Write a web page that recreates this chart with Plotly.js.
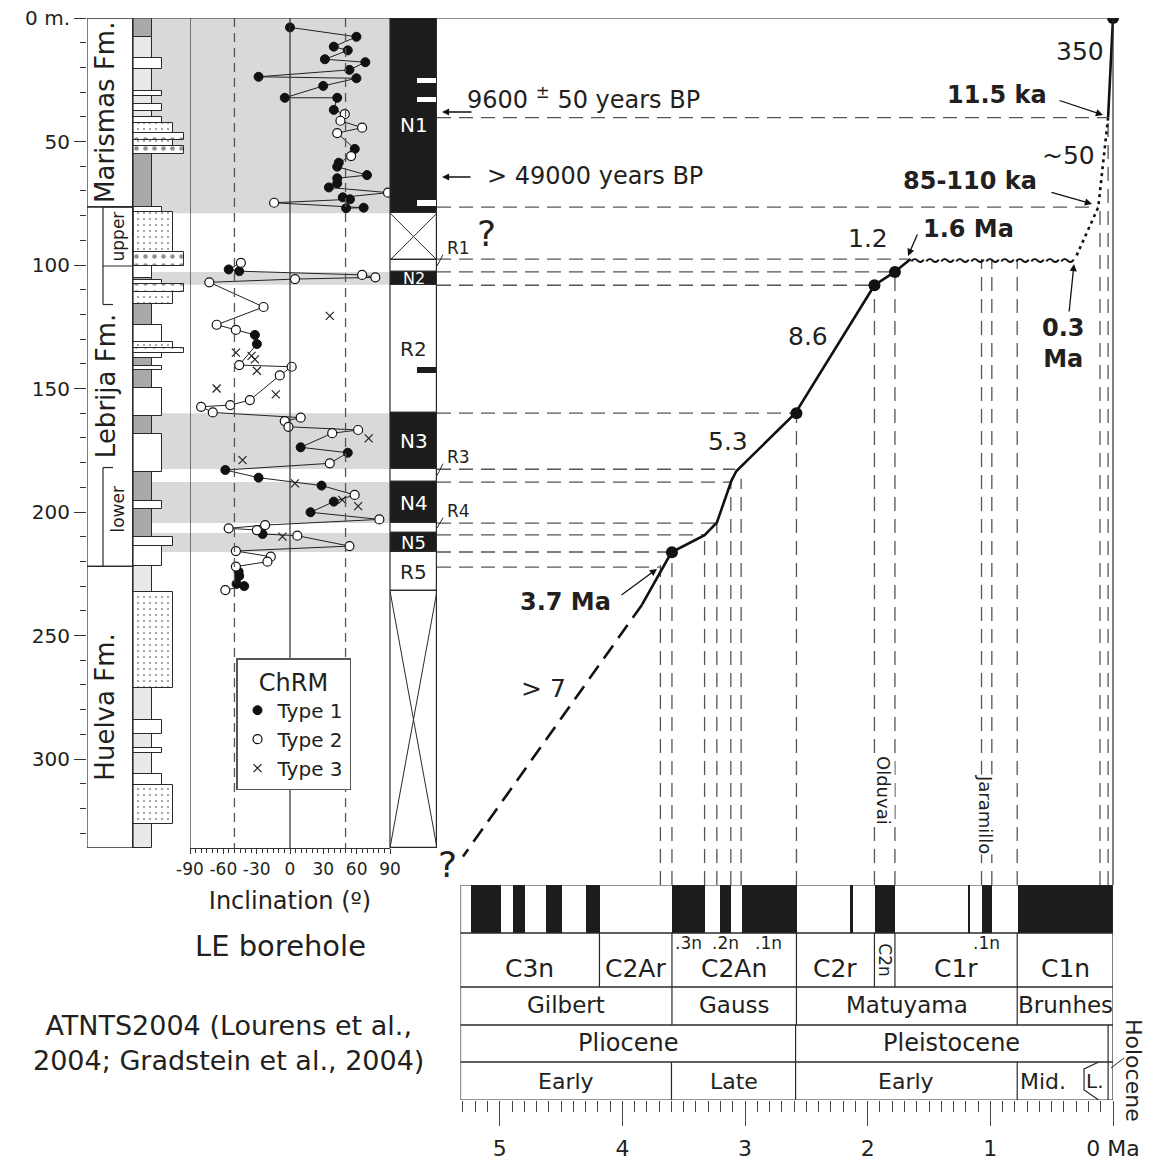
<!DOCTYPE html>
<html><head><meta charset="utf-8">
<script src="https://cdn.plot.ly/plotly-3.0.1.min.js"></script>
<style>html,body{margin:0;padding:0;background:#fff}#chart{width:1150px;height:1162px}</style>
</head><body><div id="chart"></div>
<script>
// ================= DATA =================
// Formations (depth, m)
const formationNames = ['Marismas Fm.', 'Lebrija Fm.', 'Huelva Fm.'];
const formationTop   = [0, 76.5, 222];
const formationBase  = [76.5, 222, 336];
const memberNames = ['upper', 'lower'];
const memberTop   = [76.5, 182];
const memberBase  = [100.4, 222];

// Lithology base strip
const stripTop   = [0, 7.8, 42.6, 100.4, 105.3, 222];
const stripBase  = [7.8, 42.6, 100.4, 105.3, 222, 336];
const stripShade = ['dark', 'light', 'dark', 'none', 'dark', 'light'];
// Lithology beds
const bedTop  = [16.3, 29.6, 35.0, 40.2, 42.6, 46.7, 49.5, 51.7, 76.5, 78.7, 94.9, 106.1, 107.7, 111.0, 124.3, 131.0, 133.6, 135.6, 140.9, 149.8, 168.4, 195.5, 210.1, 213.8, 232.4, 284.2, 295.5, 306.0, 310.5];
const bedBase = [20.6, 31.7, 37.7, 42.6, 46.7, 49.5, 51.7, 55.2, 78.7, 94.9, 100.4, 107.7, 111.0, 115.8, 131.0, 133.6, 135.6, 137.7, 142.5, 161.0, 183.8, 198.8, 213.8, 222.0, 271.3, 290.0, 297.6, 310.5, 326.3];
const bedType = ['silt','silt','silt','silt','sand','gravel','sand','gravel','silt','sand','gravel','silt','gravel','sand','silt','sand','gravel','silt','silt','silt','silt','silt','sandPlain','silt','sand','silt','silt','silt','sand'];

// Inclination (ChRM) – Marismas Fm. segment
const incMarDepth = [3.8, 7.6, 11.6, 13.1, 16.7, 17.9, 21.0, 23.8, 24.4, 27.5, 32.3, 32.3, 37.2, 38.9, 41.6, 44.4, 46.6, 53.0, 55.9, 58.6, 60.2, 63.6, 64.9, 66.9, 68.6, 70.7, 72.6, 73.4, 74.8, 76.8, 77.0];
const incMarValue = [0, 59.8, 39.4, 52, 31.4, 67.8, 53.5, -28.3, 59.8, 29.9, -4.7, 42.5, 39.4, 49.3, 45.4, 64.9, 42.5, 58.3, 55, 43.9, 42.5, 69.3, 42.5, 42.5, 35, 88.2, 47.5, 54, -14.3, 66.3, 50.5];
const incMarType  = [1,1,1,1,1,1,1,1,1,1,1,1,1,2,2,2,2,1,2,1,1,1,1,1,1,2,1,1,2,1,1];
// Inclination – Lebrija Fm. segment
const incLebDepth = [99.1, 101.8, 102.5, 104.0, 105.0, 105.7, 107.0, 117.0, 124.2, 126.3, 128.3, 132.0, 140.5, 141.2, 144.7, 154.7, 156.7, 157.4, 159.7, 161.8, 163.2, 165.5, 166.8, 168.1, 173.8, 176.0, 180.3, 183.0, 186.1, 189.3, 193.1, 195.8, 200.1, 203.0, 205.3, 206.6, 207.3, 208.9, 209.6, 213.8, 215.8, 218.1, 220.1, 222.1, 224.2, 225.9, 229.1, 230.0, 231.6];
const incLebValue = [-44.2, -55.2, -45.7, 64.9, 76.8, 4.5, -72.6, -23.8, -66, -48.7, -31.6, -29.8, -45.7, 1.5, -9.2, -36.1, -53.8, -80, -69.5, 9.6, -4.7, -1.4, 61.3, 38, 9.6, 52, 35.8, -58.2, -28.3, 28.4, 58.2, 39.4, 18.5, 80.4, -22.4, -55.2, -29.8, -24.7, 6.6, 53.5, -48.7, -17.3, -20.3, -48.7, -46.2, -45.7, -48.1, -41.2, -58.2];
const incLebType  = [2,1,1,2,2,2,2,2,2,2, 1,1,2,2,2,2,2,2,2,2, 2,2,2,2,1,1,2,1,1,1, 2,1,1,2,2,2,2,1,2,2, 2,2,2,2,1,1,1,1,2];
// Type 3 (not connected)
const incT3Depth = [120.6, 135.5, 136.8, 138.2, 142.8, 150.0, 152.4, 170.2, 179.0, 188.4, 195.1, 197.6, 210.0];
const incT3Value = [35.8, -48.7, -34.6, -31.6, -29.8, -66, -12.8, 70.8, -42.7, 4.5, 47, 61.3, -6.8];
const incRefLines = [-50, 50];
const incTicks = [-90, -60, -30, 0, 30, 60, 90];
const incTickText = ['-90', '-60', '-30', '0', '30', '60', '90'];

// Magnetozones of the borehole
const polName  = ['N1', '', 'R1', 'N2', 'R2', 'N3', 'R3', 'N4', 'R4', 'N5', 'R5', ''];
const polTop   = [0, 79, 98, 102.8, 108, 160, 182.6, 187.9, 204.5, 208.5, 216.2, 232];
const polBase  = [79, 98, 102.8, 108, 160, 182.6, 187.9, 204.5, 208.5, 216.2, 232, 336];
const polState = ['N', '?', 'R', 'N', 'R', 'N', 'R', 'N', 'R', 'N', 'R', '?'];
const polMarkTop   = [24.3, 32.0, 73.7, 141.3];
const polMarkBase  = [26.3, 34.0, 76.0, 143.7];
const polMarkState = ['R', 'R', 'R', 'N'];

// Age-depth model (age Ma, depth m)
const modelUpperAge = [0, 0.04];             const modelUpperDepth = [0, 40.3];
const modelDottedAge = [0.04, 0.12, 0.31];   const modelDottedDepth = [40.3, 76.6, 97.6];
const hiatusAge = [0.31, 1.65];              const hiatusDepth = 97.6;
const modelLowerAge = [1.65, 1.78, 1.945, 2.59, 3.07, 3.11, 3.23, 3.33, 3.60, 3.84];
const modelLowerDepth = [97.6, 102.8, 108.2, 160, 183.4, 187.2, 204.3, 209.4, 216.3, 237.5];
const modelExtrapAge = [3.84, 5.30];         const modelExtrapDepth = [237.5, 339.5];
const tieAge   = [0, 1.778, 1.945, 2.581, 3.596];
const tieDepth = [0, 102.8, 108.2, 160, 216.3];
const hTieDepth = [40.3, 76.6, 97.6, 102.8, 108.2, 160, 182.7, 187.9, 204.5, 209.3, 216.2, 222.3];
const hTieAge   = [0.05, 0.12, 1.67, 1.78, 1.945, 2.59, 3.08, 3.11, 3.23, 3.33, 3.596, 3.69];
const vTieAge   = [3.69, 3.596, 3.33, 3.23, 3.116, 3.032, 2.581, 1.945, 1.778, 1.072, 0.988, 0.781, 0.106, 0.04];
const vTieDepth = [221.5, 216.3, 209.3, 204.4, 187.5, 186.5, 160, 108.2, 102.8, 97.6, 97.6, 97.6, 76.6, 41];

// ATNTS2004
const gptsOldest = 5.32;
const gptsNormalYoung = [0, 0.988, 1.173, 1.778, 2.128, 2.581, 3.116, 3.330, 4.187, 4.493, 4.799, 4.997];
const gptsNormalOld   = [0.781, 1.072, 1.185, 1.945, 2.148, 3.032, 3.207, 3.596, 4.300, 4.631, 4.896, 5.235];
const chronNames = ['C1n', 'C1r', 'C2n', 'C2r', 'C2An', 'C2Ar', 'C3n'];
const chronYoung = [0, 0.781, 1.778, 1.945, 2.581, 3.596, 4.187];
const chronOld   = [0.781, 1.778, 1.945, 2.581, 3.596, 4.187, 5.32];
const subchronNames = ['.1n', '.1n', '.2n', '.3n'];
const subchronYoung = [0.988, 2.581, 3.116, 3.330];
const subchronOld   = [1.072, 3.032, 3.207, 3.596];
const polChronNames = ['Brunhes', 'Matuyama', 'Gauss', 'Gilbert'];
const polChronYoung = [0, 0.781, 2.581, 3.596];
const polChronOld   = [0.781, 2.581, 3.596, 5.32];
const epochNames = ['Holocene', 'Pleistocene', 'Pliocene'];
const epochYoung = [0, 0.04, 2.588];
const epochOld   = [0.04, 2.588, 5.32];
const subEpochNames = ['Holocene', 'L.', 'Mid.', 'Early', 'Late', 'Early'];
const subEpochYoung = [0, 0.04, 0.126, 0.781, 2.588, 3.6];
const subEpochOld   = [0.04, 0.126, 0.781, 2.588, 3.6, 5.32];
const ageTicks = [0, 1, 2, 3, 4, 5];
const ageTickText = ['0\u00a0Ma', '1', '2', '3', '4', '5'];

// ================= LAYOUT CONSTANTS =================
const W = 1150, H = 1162;
const F = 'DejaVu Sans, Verdana, sans-serif';
const C = '#231f20', LINE = '#2a2a2a', DASHC = '#555';
const PX = v => v / W, PY = v => 1 - v / H;
const TOP_PX = 18, PX_PER_M = 2.47, COL_BOTTOM_PX = 848, GPTS_TOP_PX = 885, GPTS_BOTTOM_PX = 1100;
const AGE0_PX = 1113, PX_PER_MA = 122.65;
const DEPTH_MAX = (COL_BOTTOM_PX - TOP_PX) / PX_PER_M;
const DEPTH2_MAX = (GPTS_TOP_PX - TOP_PX) / PX_PER_M;
const AD_LEFT_PX = 437;
const AGE_LEFT = (AGE0_PX - AD_LEFT_PX) / PX_PER_MA, AGE_RIGHT = (AGE0_PX - W) / PX_PER_MA;
const dPx = d => TOP_PX + d * PX_PER_M;
const aPx = a => AGE0_PX - a * PX_PER_MA;
// litho column units (px offsets from 87)
const FORM_W = 46, MEMBER_X = 16, STRIP_W = 19;
const LITH = {
  silt:      {len: 29, shape: '',  size: 6, sol: 0.1},
  sand:      {len: 40, shape: '.', size: 6, sol: 0.1},
  sandPlain: {len: 40, shape: '',  size: 6, sol: 0.1},
  gravel:    {len: 51, shape: '.', size: 9, sol: 0.2}
};
const SHADE = {dark: '#a9a9a9', light: '#e9e9e9', none: '#ffffff'};
const ROW = {bar: [0, 48], chron: [48, 102], pol: [102, 140], epoch: [140, 177], sub: [177, 215]};

const traces = [];
const shapes = [];
const ann = [];
const mid = (a, b) => (a + b) / 2;

function seg(xref, yref, x0, y0, x1, y1, opt) {
  return Object.assign({type: 'line', xref, yref, x0, y0, x1, y1, line: {color: LINE, width: 1.2}}, opt || {});
}
function rect(xref, yref, x0, x1, y0, y1, opt) {
  return Object.assign({type: 'rect', xref, yref, x0, x1, y0, y1, line: {color: LINE, width: 1.2}, fillcolor: 'rgba(0,0,0,0)'}, opt || {});
}
function txt(x, y, text, size, opt) {
  return Object.assign({xref: 'paper', yref: 'paper', x: PX(x), y: PY(y), text, showarrow: false,
    font: {size, family: F, color: C}, xanchor: 'center', yanchor: 'middle'}, opt || {});
}
function arrow(x0, y0, x1, y1) {
  return {xref: 'paper', yref: 'paper', x: PX(x1), y: PY(y1), ax: x0 - x1, ay: y0 - y1, text: '',
    showarrow: true, arrowhead: 2, arrowsize: 1.1, arrowwidth: 1.3, arrowcolor: '#111', standoff: 0, startstandoff: 0};
}

// ---------- gray normal-polarity bands ----------
polState.forEach((s, i) => {
  if (s === 'N') shapes.push(rect('paper', 'y', PX(152), PX(390), polTop[i], polBase[i],
    {fillcolor: '#d9d9d9', line: {width: 0}, layer: 'below'}));
});

// ---------- lithology ----------
traces.push({type: 'bar', orientation: 'h', xaxis: 'x', yaxis: 'y',
  y: stripTop.map((t, i) => mid(t, stripBase[i])), width: stripTop.map((t, i) => stripBase[i] - t),
  x: stripTop.map(() => STRIP_W), base: FORM_W,
  marker: {color: stripShade.map(s => SHADE[s]), line: {color: LINE, width: 1}},
  hoverinfo: 'skip', showlegend: false});
traces.push({type: 'bar', orientation: 'h', xaxis: 'x', yaxis: 'y',
  y: bedTop.map((t, i) => mid(t, bedBase[i])), width: bedTop.map((t, i) => bedBase[i] - t),
  x: bedType.map(t => LITH[t].len), base: FORM_W,
  marker: {color: '#ffffff', line: {color: LINE, width: 1},
    pattern: {shape: bedType.map(t => LITH[t].shape), size: bedType.map(t => LITH[t].size),
      solidity: bedType.map(t => LITH[t].sol), fgcolor: '#222', bgcolor: '#ffffff', fillmode: 'overlay'}},
  hoverinfo: 'skip', showlegend: false});

// formations
formationNames.forEach((n, i) => {
  shapes.push(rect('x', 'y', 0, FORM_W, formationTop[i], formationBase[i]));
  ann.push({xref: 'x', yref: 'y', x: 18.5, y: mid(formationTop[i], formationBase[i]), text: n, textangle: -90,
    showarrow: false, font: {size: 26, family: F, color: C}});
});
// members
shapes.push(rect('x', 'y', MEMBER_X, FORM_W, memberTop[0], memberBase[0]));
shapes.push(seg('x', 'y', MEMBER_X, memberBase[0], MEMBER_X, 116));
shapes.push(seg('x', 'y', MEMBER_X, 116, MEMBER_X + 10, 116));
shapes.push(seg('x', 'y', MEMBER_X, memberTop[1], MEMBER_X, memberBase[1]));
shapes.push(seg('x', 'y', MEMBER_X, memberTop[1], MEMBER_X + 10, memberTop[1]));
memberNames.forEach((n, i) => ann.push({xref: 'x', yref: 'y', x: 31, y: mid(memberTop[i], memberBase[i]) - (i ? 3 : 0),
  text: n, textangle: -90, showarrow: false, font: {size: 17, family: F, color: C}}));

// ---------- inclination ----------
shapes.push(seg('x2', 'y', 0, 0, 0, DEPTH_MAX));
incRefLines.forEach(v => shapes.push(seg('x2', 'y', v, 0, v, DEPTH_MAX, {line: {color: DASHC, width: 1.3, dash: '9px,6px'}})));
shapes.push(seg('x2', 'y', -90, 0, -90, DEPTH_MAX));
traces.push({type: 'scatter', mode: 'lines', xaxis: 'x2', yaxis: 'y',
  x: incMarValue.concat([null], incLebValue), y: incMarDepth.concat([null], incLebDepth),
  line: {color: '#222', width: 1}, hoverinfo: 'skip', showlegend: false, connectgaps: false});
const allInc = incMarValue.concat(incLebValue), allDep = incMarDepth.concat(incLebDepth), allTyp = incMarType.concat(incLebType);
const pick = t => ({x: allInc.filter((v, i) => allTyp[i] === t), y: allDep.filter((v, i) => allTyp[i] === t)});
const t1 = pick(1), t2 = pick(2);
traces.push({type: 'scatter', mode: 'markers', name: 'Type 1', xaxis: 'x2', yaxis: 'y', x: t1.x, y: t1.y,
  marker: {symbol: 'circle', size: 9, color: '#111', line: {color: '#111', width: 1}}, hoverinfo: 'skip'});
traces.push({type: 'scatter', mode: 'markers', name: 'Type 2', xaxis: 'x2', yaxis: 'y', x: t2.x, y: t2.y,
  marker: {symbol: 'circle', size: 9, color: '#fff', line: {color: '#111', width: 1.2}}, hoverinfo: 'skip'});
traces.push({type: 'scatter', mode: 'markers', name: 'Type 3', xaxis: 'x2', yaxis: 'y', x: incT3Value, y: incT3Depth,
  marker: {symbol: 'x-thin', size: 8, color: '#222', line: {color: '#222', width: 1.2}}, hoverinfo: 'skip'});

// ---------- polarity column ----------
traces.push({type: 'bar', orientation: 'h', xaxis: 'x3', yaxis: 'y',
  y: polTop.map((t, i) => mid(t, polBase[i])), width: polTop.map((t, i) => polBase[i] - t),
  x: polTop.map(() => 1), base: 0,
  marker: {color: polState.map(s => s === 'N' ? '#1c1c1c' : '#ffffff'), line: {color: LINE, width: 1.2}},
  hoverinfo: 'skip', showlegend: false});
traces.push({type: 'bar', orientation: 'h', xaxis: 'x3', yaxis: 'y',
  y: polMarkTop.map((t, i) => mid(t, polMarkBase[i])), width: polMarkTop.map((t, i) => polMarkBase[i] - t),
  x: polMarkTop.map(() => 0.41), base: 0.575,
  marker: {color: polMarkState.map(s => s === 'N' ? '#1c1c1c' : '#ffffff'), line: {width: 0}},
  hoverinfo: 'skip', showlegend: false});
polState.forEach((s, i) => {
  if (s === '?') {
    shapes.push(seg('x3', 'y', 0, polTop[i], 1, polBase[i], {line: {color: LINE, width: 1}}));
    shapes.push(seg('x3', 'y', 1, polTop[i], 0, polBase[i], {line: {color: LINE, width: 1}}));
  }
  if (!polName[i]) return;
  const th = polBase[i] - polTop[i];
  if (s === 'N' || th > 7) {
    ann.push({xref: 'x3', yref: 'y', x: 0.5, y: mid(polTop[i], polBase[i]) + (th > 60 ? 4 : 0), text: polName[i], showarrow: false,
      font: {size: th > 12 ? 20 : (th > 7 ? 18 : 16), family: F, color: s === 'N' ? '#ffffff' : C}});
  } else {
    const ly = dPx(polTop[i] - 5);
    ann.push(txt(445, ly, polName[i], 17, {xanchor: 'left'}));
    shapes.push(seg('paper', 'paper', PX(437), PY(dPx(mid(polTop[i], polBase[i]))), PX(443), PY(ly + 7), {line: {color: LINE, width: 1}}));
  }
});
shapes.push(rect('x3', 'y', 0, 1, 0, DEPTH_MAX));
shapes.push(seg('x2', 'y', 90, 0, 90, DEPTH_MAX));
// top line
shapes.push(seg('paper', 'y', PX(87), 0, PX(AGE0_PX), 0));

// ---------- age-depth panel ----------
const tieX = [], tieY = [];
hTieDepth.forEach((d, i) => { tieX.push(AGE_LEFT, hTieAge[i], null); tieY.push(d, d, null); });
vTieAge.forEach((a, i) => { tieX.push(a, a, null); tieY.push(DEPTH2_MAX, vTieDepth[i], null); });
traces.push({type: 'scatter', mode: 'lines', xaxis: 'x4', yaxis: 'y2', x: tieX, y: tieY,
  line: {color: DASHC, width: 1.3, dash: '14px,8px'}, hoverinfo: 'skip', showlegend: false});
shapes.push(seg('x4', 'y2', 0, 0, 0, DEPTH2_MAX, {line: {color: LINE, width: 1.2}}));
const curveLine = {color: '#111', width: 2.6};
traces.push({type: 'scatter', mode: 'lines', xaxis: 'x4', yaxis: 'y2', x: modelUpperAge, y: modelUpperDepth, line: curveLine, hoverinfo: 'skip', showlegend: false});
traces.push({type: 'scatter', mode: 'lines', xaxis: 'x4', yaxis: 'y2', x: modelDottedAge, y: modelDottedDepth, line: Object.assign({}, curveLine, {dash: '3px,4px'}), hoverinfo: 'skip', showlegend: false});
traces.push({type: 'scatter', mode: 'lines', xaxis: 'x4', yaxis: 'y2', x: modelLowerAge, y: modelLowerDepth, line: curveLine, hoverinfo: 'skip', showlegend: false});
traces.push({type: 'scatter', mode: 'lines', xaxis: 'x4', yaxis: 'y2', x: modelExtrapAge, y: modelExtrapDepth, line: Object.assign({}, curveLine, {dash: '16px,9px'}), hoverinfo: 'skip', showlegend: false});
traces.push({type: 'scatter', mode: 'markers', xaxis: 'x4', yaxis: 'y2', x: tieAge, y: tieDepth, marker: {size: 12, color: '#111'}, hoverinfo: 'skip', showlegend: false});
// hiatus (wavy unconformity) drawn as a wave-dash string
ann.push({xref: 'x4', yref: 'y2', x: mid(hiatusAge[0], hiatusAge[1]), y: hiatusDepth, text: '<b>' + '\u301c'.repeat(11) + '</b>', showarrow: false,
  font: {size: 15, family: 'Noto Sans CJK JP', color: '#111'}});

// labels on age-depth panel
ann.push(txt(1080, 52, '350', 25));
ann.push(txt(997, 95, '<b>11.5 ka</b>', 24));
ann.push(arrow(1058, 100, 1103, 115));
ann.push(txt(1068, 155, '~50', 25));
ann.push(txt(970, 181, '<b>85-110 ka</b>', 24));
ann.push(arrow(1050, 192, 1092, 204));
ann.push(txt(868, 238, '1.2', 25));
ann.push(txt(968, 229, '<b>1.6 Ma</b>', 24));
ann.push(arrow(918, 233, 908, 256));
ann.push(txt(1063, 344, '<b>0.3<br>Ma</b>', 24));
ann.push(arrow(1069, 313, 1074, 264));
ann.push(txt(808, 337, '8.6', 25));
ann.push(txt(728, 441, '5.3', 25));
ann.push(txt(565, 602, '<b>3.7 Ma</b>', 24));
ann.push(arrow(620, 596, 657, 569));
ann.push(txt(543, 688, '> 7', 25));
ann.push(txt(486, 234, '?', 36));
ann.push(txt(447, 865, '?', 36));
ann.push(txt(465, 98, '9600 <sup>±</sup> 50 years BP', 24, {xanchor: 'left'}));
ann.push(arrow(473, 112, 442, 112));
ann.push(txt(485, 176, '> 49000 years BP', 24, {xanchor: 'left'}));
ann.push(arrow(472, 177, 442, 177));
ann.push(txt(884, 790, 'Olduvai', 18, {textangle: 90, bgcolor: '#ffffff', borderpad: 0}));
ann.push(txt(986, 814, 'Jaramillo', 18, {textangle: 90, bgcolor: '#ffffff', borderpad: 0}));
ann.push(txt(280, 946, 'LE borehole', 29));
ann.push(txt(228, 1043, 'ATNTS2004 (Lourens et al.,<br>2004; Gradstein et al., 2004)', 27));

// ---------- GPTS ----------
traces.push({type: 'bar', orientation: 'h', xaxis: 'x5', yaxis: 'y3',
  y: gptsNormalYoung.map(() => mid(ROW.bar[0], ROW.bar[1])), width: gptsNormalYoung.map(() => ROW.bar[1] - ROW.bar[0]),
  x: gptsNormalYoung.map((a, i) => gptsNormalOld[i] - a), base: gptsNormalYoung,
  marker: {color: '#1c1c1c', line: {width: 0}}, hoverinfo: 'skip', showlegend: false});
shapes.push(rect('x5', 'y3', 0, gptsOldest, ROW.bar[0], ROW.bar[1]));
function rowCells(young, old, row, skipBoundary) {
  shapes.push(rect('x5', 'y3', 0, gptsOldest, row[0], row[1]));
  old.forEach((o, i) => { if (o < gptsOldest && o !== skipBoundary) shapes.push(seg('x5', 'y3', o, row[0], o, row[1])); });
}
rowCells(chronYoung, chronOld, ROW.chron);
rowCells(polChronYoung, polChronOld, ROW.pol);
rowCells(epochYoung, epochOld, ROW.epoch);
rowCells(subEpochYoung, subEpochOld, ROW.sub, subEpochOld[1]);
// bracket around "L."
const lOld = subEpochOld[1];
shapes.push({type: 'path', xref: 'x5', yref: 'y3', line: {color: LINE, width: 1.2},
  path: `M ${lOld - 0.01} ${ROW.sub[0]} L ${lOld + 0.11} ${ROW.sub[0] + 7} L ${lOld + 0.11} ${ROW.sub[1] - 10} L ${lOld - 0.01} ${ROW.sub[1]}`});
function lab(a, y, text, size, opt) {
  ann.push(Object.assign({xref: 'x5', yref: 'y3', x: a, y, text, showarrow: false, font: {size, family: F, color: C}}, opt || {}));
}
chronNames.forEach((n, i) => {
  if (n === 'C2n') lab(mid(chronYoung[i], chronOld[i]), 75, n, 17, {textangle: 90});
  else lab(mid(chronYoung[i], chronOld[i]), 83, n, 25);
});
subchronNames.forEach((n, i) => lab(mid(subchronYoung[i], subchronOld[i]), 58, n, 17));
polChronNames.forEach((n, i) => lab(mid(polChronYoung[i], polChronOld[i]), 120, n, 23));
epochNames.forEach((n, i) => { if (n !== 'Holocene') lab(mid(epochYoung[i], epochOld[i]), 158, n, 24); });
subEpochNames.forEach((n, i) => {
  if (n === 'Holocene') return;
  let a = mid(subEpochYoung[i], subEpochOld[i]);
  if (n === 'L.') a = subEpochOld[i] + 0.02;
  if (n === 'Mid.') a = a + 0.12;
  lab(a, 196, n, n === 'L.' ? 20 : 22);
});
ann.push(txt(1134, 1070, 'Holocene', 22, {textangle: 90}));
shapes.push(seg('paper', 'paper', PX(1111), PY(1068), PX(1124), PY(1058), {line: {color: LINE, width: 1}}));

// ---------- LAYOUT ----------
const hidden = {visible: false, fixedrange: true, showgrid: false, zeroline: false};
const layout = {
  width: W, height: H, margin: {l: 0, r: 0, t: 0, b: 0},
  paper_bgcolor: '#ffffff', plot_bgcolor: 'rgba(0,0,0,0)',
  font: {family: F, color: C, size: 18},
  barmode: 'overlay', bargap: 0, hovermode: false, showlegend: true,
  legend: {x: PX(236), y: PY(658), xanchor: 'left', yanchor: 'top', bgcolor: '#ffffff', bordercolor: '#555', borderwidth: 1.5,
    font: {size: 20, family: F, color: C}, title: {text: 'ChRM', side: 'top center', font: {size: 24, family: F, color: C}},
    itemwidth: 30, tracegroupgap: 0, traceorder: 'normal'},
  xaxis: Object.assign({domain: [PX(87), PX(190)], range: [0, 103], anchor: 'y'}, hidden),
  yaxis: {domain: [PY(COL_BOTTOM_PX), PY(TOP_PX)], range: [DEPTH_MAX, 0], anchor: 'x', fixedrange: true,
    dtick: 50, tick0: 0, labelalias: {'0': '0 m.'}, ticks: 'outside', ticklen: 12, tickwidth: 1.2, tickcolor: '#333',
    minor: {dtick: 10, tick0: 0, ticks: 'outside', ticklen: 6, tickwidth: 1.2, tickcolor: '#333', showgrid: false},
    tickfont: {size: 20, family: F, color: C}, showgrid: false, zeroline: false, showline: false},
  xaxis2: {domain: [PX(190), PX(390)], range: [-90, 90], anchor: 'y', fixedrange: true,
    tickmode: 'array', tickvals: incTicks, ticktext: incTickText, tickangle: 0, ticks: 'outside', ticklen: 5, tickwidth: 1, tickcolor: '#333',
    minor: {dtick: 5, tick0: -90, ticks: 'outside', ticklen: 4, tickwidth: 1, tickcolor: '#333', showgrid: false},
    showline: true, linecolor: '#333', linewidth: 1.2, showgrid: false, zeroline: false,
    tickfont: {size: 17, family: F, color: C},
    title: {text: 'Inclination (º)', font: {size: 24, family: F, color: C}, standoff: 14}},
  xaxis3: Object.assign({domain: [PX(390), PX(AD_LEFT_PX)], range: [0, 1], anchor: 'y'}, hidden),
  xaxis4: Object.assign({domain: [PX(AD_LEFT_PX), 1], range: [AGE_LEFT, AGE_RIGHT], anchor: 'y2'}, hidden),
  yaxis2: Object.assign({domain: [PY(GPTS_TOP_PX), PY(TOP_PX)], range: [DEPTH2_MAX, 0], anchor: 'x4'}, hidden),
  xaxis5: {domain: [PX(aPx(gptsOldest)), PX(AGE0_PX)], range: [gptsOldest, 0], anchor: 'y3', fixedrange: true,
    tickmode: 'array', tickvals: ageTicks, ticktext: ageTickText, tickangle: 0, ticks: 'outside', ticklen: 25, tickwidth: 1.2, tickcolor: '#444',
    minor: {dtick: 0.1, tick0: 0, ticks: 'outside', ticklen: 11, tickwidth: 1.2, tickcolor: '#444', showgrid: false},
    showline: false, showgrid: false, zeroline: false, ticklabelstandoff: 4,
    tickfont: {size: 22, family: F, color: C}},
  yaxis3: Object.assign({domain: [PY(GPTS_BOTTOM_PX), PY(GPTS_TOP_PX)], range: [ROW.sub[1], 0], anchor: 'x5'}, hidden),
  shapes, annotations: ann
};
Plotly.newPlot('chart', traces, layout, {displayModeBar: false, responsive: false});
</script></body></html>
